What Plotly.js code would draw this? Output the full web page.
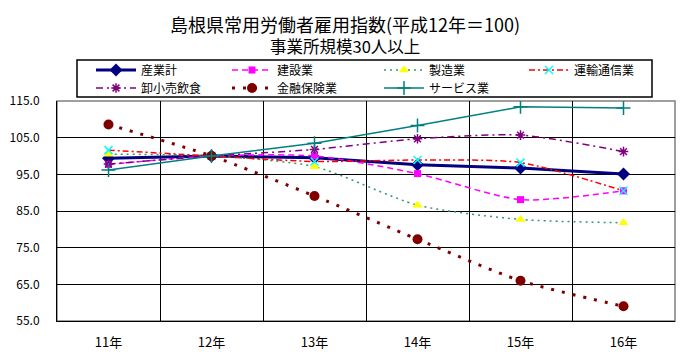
<!DOCTYPE html>
<html><head><meta charset="utf-8">
<script src="https://cdn.plot.ly/plotly-3.0.1.min.js"></script>
<style>body{margin:0;background:#fff}#c{width:690px;height:354px}</style>
</head><body><div id="c"></div>
<script>
const years = ['11年','12年','13年','14年','15年','16年'];
const sangyokei = [99.4, 100.0, 99.5, 97.6, 96.7, 95.1];
const kensetsu = [97.7, 100.0, 100.0, 95.2, 88.1, 90.5];
const seizo = [100.5, 100.0, 97.1, 86.6, 82.7, 81.8];
const unyu = [101.6, 100.0, 98.5, 98.9, 98.2, 90.5];
const oroshi = [97.8, 100.0, 101.8, 104.7, 105.7, 101.2];
const kinyu = [108.6, 100.0, 89.1, 77.3, 66.0, 59.0];
const service = [96.2, 100.0, 103.5, 108.3, 113.4, 113.1];
const yTicks = [55, 65, 75, 85, 95, 105, 115];
const titleMain = '島根県常用労働者雇用指数(平成12年＝100)';
const titleSub = '事業所規模30人以上';

const F = '"Noto Sans CJK JP", "MS PGothic", sans-serif';
const L = 57, R = 675, T = 101, B = 321;
const px = v => (v - L) / (R - L);
const py = v => (B - v) / (B - T);

function tr(name, y, line, marker, spline, lg){
  return {type:'scatter', mode:'lines+markers', name, x: years, y, legend: lg,
    line: Object.assign({shape: spline ? 'spline' : 'linear', smoothing: 0.7}, line), marker};
}
const data = [
  tr('産業計', sangyokei, {color:'#000080', width:3}, {symbol:'diamond', size:10, color:'#000080'}, false, 'legend'),
  tr('建設業', kensetsu, {color:'#FF00FF', width:1.5, dash:'6px,4px'}, {symbol:'square', size:7, color:'#FF00FF'}, true, 'legend2'),
  tr('製造業', seizo, {color:'#339966', width:1.5, dash:'2px,4px'}, {symbol:'triangle-up', size:9, color:'#FFFF00'}, true, 'legend3'),
  tr('運輸通信業', unyu, {color:'#FF0000', width:1.5, dash:'6px,3px,2px,3px'}, {symbol:'x-thin-open', size:8, line:{color:'#00FFFF', width:1.5}, color:'#00FFFF'}, true, 'legend4'),
  tr('卸小売飲食', oroshi, {color:'#800080', width:1.5, dash:'7px,4px,2px,4px'}, {symbol:'asterisk-open', size:8, line:{color:'#800080', width:1.5}, color:'#800080'}, true, 'legend5'),
  tr('金融保険業', kinyu, {color:'#800000', width:3, dash:'3px,8px'}, {symbol:'circle', size:10, color:'#800000'}, true, 'legend6'),
  tr('サービス業', service, {color:'#008080', width:1.5}, {symbol:'cross-thin-open', size:10, line:{color:'#008080', width:1.5}, color:'#008080'}, false, 'legend7')
];
function lgd(textX, rowY){
  return {x: px(textX - 50), xanchor:'left', y: py(rowY), yanchor:'middle',
    borderwidth:0, bgcolor:'rgba(0,0,0,0)', itemwidth:40,
    font:{family:F, size:12, color:'#000'}};
}
const layout = {
  width:690, height:354,
  margin:{l:L, r:690-R, t:T, b:354-B},
  paper_bgcolor:'#fff', plot_bgcolor:'#fff',
  font:{family:F, color:'#000', size:12},
  annotations:[
    {text:titleMain, xref:'paper', yref:'paper', x:px(344.5), y:py(24), xanchor:'center', yanchor:'middle',
     showarrow:false, font:{family:F, size:18, color:'#000'}},
    {text:titleSub, xref:'paper', yref:'paper', x:px(345), y:py(46.5), xanchor:'center', yanchor:'middle',
     showarrow:false, font:{family:F, size:16.5, color:'#000'}}
  ],
  xaxis:{type:'category', range:[-0.5,5.5], tickson:'boundaries', showgrid:true, gridcolor:'#000', gridwidth:1,
    showline:true, linecolor:'#000', linewidth:1, ticks:'', ticklabelstandoff:9,
    tickfont:{family:F, size:13, color:'#000'}, fixedrange:true, zeroline:false},
  yaxis:{range:[55,115], tickvals:yTicks, tickformat:'.1f', showgrid:true, gridcolor:'#000', gridwidth:1,
    showline:true, linecolor:'#000', linewidth:1, ticks:'', ticklabelstandoff:14,
    tickfont:{family:F, size:12, color:'#000'}, zeroline:false, fixedrange:true},
  shapes:[
    {type:'rect', xref:'paper', yref:'paper', x0:0, x1:1, y0:0, y1:1, line:{color:'#808080', width:1.5}, layer:'below'},
    {type:'rect', xref:'paper', yref:'paper', x0:px(77), x1:px(652), y0:py(97), y1:py(60), line:{color:'#000', width:1.5}, fillcolor:'#fff', layer:'above'}
  ],
  legend: lgd(141, 70), legend2: lgd(277, 70), legend3: lgd(429, 70), legend4: lgd(574, 70),
  legend5: lgd(141, 88), legend6: lgd(277, 88), legend7: lgd(429, 88),
  showlegend:true
};
Plotly.newPlot('c', data, layout, {staticPlot:true});
</script></body></html>
